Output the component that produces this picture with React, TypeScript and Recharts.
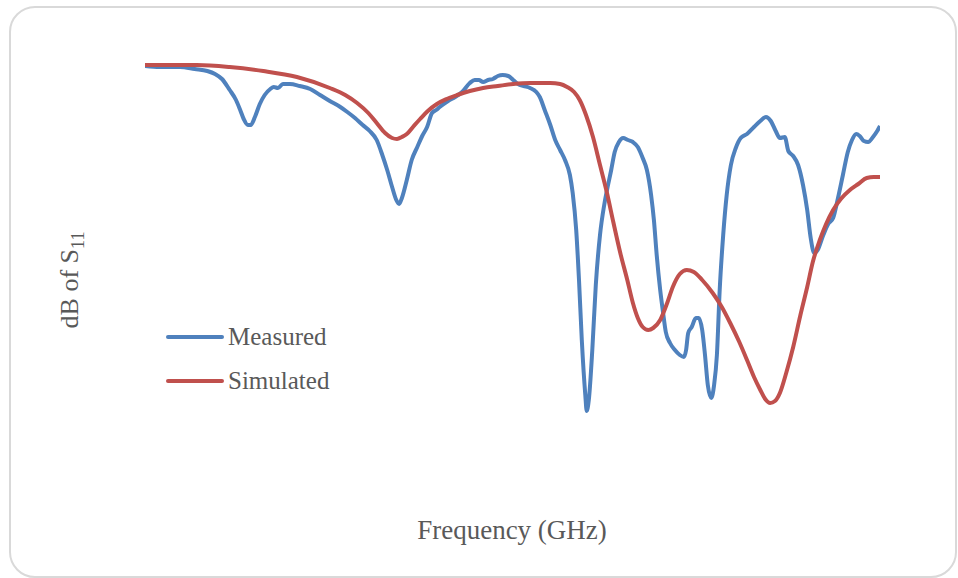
import React from "react";
import { LineChart, Line, XAxis, YAxis, Legend } from "recharts";

// frequency (GHz) / dB pairs
const measuredFreq = [
  1.0, 1.21, 1.5, 1.71, 1.89, 2.0, 2.1, 2.21, 2.3, 2.36, 2.41, 2.47, 2.51, 2.57, 2.64, 2.71, 2.79, 2.84, 2.9, 2.97,
  3.07, 3.21, 3.36, 3.5, 3.64, 3.79, 3.89, 4.0, 4.11, 4.21, 4.31, 4.39, 4.46, 4.53, 4.59, 4.63, 4.67, 4.74, 4.81, 4.89,
  4.96, 5.03, 5.1, 5.16, 5.21, 5.33, 5.43, 5.53, 5.64, 5.71, 5.77, 5.83, 5.9, 5.97, 6.04, 6.11, 6.19, 6.26, 6.33, 6.41,
  6.5, 6.59, 6.64, 6.71, 6.79, 6.86, 6.93, 7.0, 7.07, 7.11, 7.16, 7.2, 7.24, 7.29, 7.31, 7.34, 7.39, 7.44, 7.5, 7.56,
  7.6, 7.66, 7.71, 7.77, 7.83, 7.9, 7.97, 8.04, 8.11, 8.17, 8.23, 8.27, 8.31, 8.36, 8.4, 8.44, 8.5, 8.57, 8.64, 8.7,
  8.73, 8.76, 8.81, 8.87, 8.91, 8.96, 9.0, 9.04, 9.09, 9.13, 9.17, 9.21, 9.26, 9.31, 9.37, 9.44, 9.51, 9.6, 9.7, 9.79,
  9.87, 9.94, 10.01, 10.07, 10.14, 10.19, 10.26, 10.33, 10.4, 10.46, 10.51, 10.56, 10.61, 10.69, 10.76, 10.83, 10.9,
  10.97, 11.04, 11.1, 11.16, 11.21, 11.27, 11.33, 11.4, 11.46, 11.5,
];
const measuredDb = [
  -1.6, -1.7, -1.7, -1.9, -2.1, -2.4, -2.9, -4.0, -5.0, -6.0, -6.9, -7.5, -7.5, -6.7, -5.4, -4.5, -3.9, -3.7, -3.8, -3.4,
  -3.4, -3.6, -3.9, -4.5, -5.1, -5.7, -6.2, -6.8, -7.5, -8.1, -9.0, -10.5, -12.0, -13.7, -15.0, -15.4, -14.8, -13.0, -11.0, -9.7,
  -8.6, -7.7, -6.3, -6.0, -5.7, -5.1, -4.7, -4.2, -3.3, -3.0, -3.0, -3.2, -3.0, -2.9, -2.6, -2.5, -2.6, -3.0, -3.4, -3.6,
  -3.8, -4.2, -4.7, -6.0, -7.5, -9.0, -10.0, -11.0, -12.5, -14.3, -18.0, -23.0, -29.0, -34.5, -36.1, -35.0, -30.0, -23.5, -18.5, -15.5,
  -14.0, -12.0, -10.2, -9.2, -8.8, -9.0, -9.2, -9.7, -10.8, -12.0, -14.5, -17.0, -20.5, -24.0, -26.2, -28.2, -29.3, -30.0, -30.5, -30.7,
  -30.0, -28.3, -27.7, -26.8, -26.8, -28.0, -30.5, -33.5, -34.8, -33.5, -30.5, -24.0, -18.5, -14.5, -11.5, -9.8, -8.8, -8.4, -7.7, -7.1,
  -6.7, -7.1, -8.1, -8.8, -8.7, -10.1, -10.6, -11.5, -13.5, -16.0, -18.8, -20.3, -20.0, -18.5, -17.4, -16.8, -14.8,
  -12.5, -10.2, -9.0, -8.4, -8.6, -9.1, -9.2, -8.7, -8.1, -7.6,
];

const simulatedFreq = [
  1.0, 1.74, 2.21, 2.69, 3.17, 3.64, 3.86, 4.03, 4.19, 4.31, 4.43, 4.53, 4.6, 4.67, 4.74, 4.84, 4.93, 5.04, 5.17, 5.31,
  5.46, 5.64, 5.83, 6.04, 6.26, 6.5, 6.79, 6.93, 7.03, 7.13, 7.21, 7.3, 7.4, 7.5, 7.6, 7.69, 7.79, 7.89, 7.97, 8.04,
  8.11, 8.19, 8.26, 8.36, 8.46, 8.54, 8.64, 8.74, 8.84, 8.96, 9.11, 9.24, 9.36, 9.49, 9.6, 9.7, 9.79, 9.86, 9.93, 10.0,
  10.07, 10.16, 10.26, 10.36, 10.46, 10.54, 10.64, 10.73, 10.83, 10.94, 11.07, 11.19, 11.31, 11.41, 11.5,
];
const simulatedDb = [
  -1.5, -1.5, -1.7, -2.1, -2.7, -3.8, -4.5, -5.3, -6.3, -7.3, -8.3, -8.8, -8.9, -8.7, -8.4, -7.6, -6.9, -6.1, -5.4, -4.9,
  -4.5, -4.1, -3.8, -3.6, -3.4, -3.3, -3.3, -3.4, -3.7, -4.2, -5.0, -6.5, -8.7, -11.5, -14.3, -17.2, -20.3, -23.0, -25.3, -26.8,
  -27.7, -28.0, -27.8, -27.0, -25.3, -23.7, -22.4, -22.0, -22.2, -23.0, -24.3, -25.7, -27.3, -29.2, -31.0, -32.7, -34.0, -34.9, -35.3, -35.1,
  -34.3, -32.3, -29.7, -26.6, -23.7, -21.2, -19.0, -17.4, -16.0, -14.9, -14.0, -13.4, -12.8, -12.7, -12.7,
];

const seriesNames = ["Measured", "Simulated"];
const seriesColors = ["#4f81bd", "#c0504d"];

const measured = measuredFreq.map((f, i) => ({ f, db: measuredDb[i] }));
const simulated = simulatedFreq.map((f, i) => ({ f, db: simulatedDb[i] }));

const textColor = "#595959";
const serif = "'Liberation Serif', 'Times New Roman', serif";

function LegendBox() {
  return (
    <div style={{ fontFamily: serif, fontSize: 25, color: textColor }}>
      {seriesNames.map((name, i) => (
        <div key={name} style={{ display: "flex", alignItems: "center", height: 44 }}>
          <svg width={58} height={8} style={{ marginRight: 4 }}>
            <line x1={2} y1={4} x2={56} y2={4} stroke={seriesColors[i]} strokeWidth={4} strokeLinecap="round" />
          </svg>
          <span>{name}</span>
        </div>
      ))}
    </div>
  );
}

export default function App() {
  return (
    <div style={{ position: "fixed", left: 0, top: 0, width: 958, height: 578, background: "#fff" }}>
      <div
        style={{
          position: "absolute",
          left: 9,
          top: 6,
          width: 948,
          height: 572,
          border: "2px solid #d9d9d9",
          borderRadius: 26,
          boxSizing: "border-box",
        }}
      />
      <div style={{ position: "absolute", left: 0, top: 0 }}>
        <LineChart width={958} height={578} margin={{ top: 50, right: 78, bottom: 78, left: 145 }}>
          <XAxis type="number" dataKey="f" domain={[1, 11.5]} hide allowDataOverflow />
          <YAxis type="number" dataKey="db" domain={[-45, 0]} hide allowDataOverflow />
          <Legend
            layout="horizontal"
            verticalAlign="middle"
            content={() => <LegendBox />}
            wrapperStyle={{ left: 166, top: 315, width: 220, height: 90 }}
          />
          <Line
            data={measured}
            dataKey="db"
            name={seriesNames[0]}
            type="monotone"
            stroke={seriesColors[0]}
            strokeWidth={4}
            dot={false}
            isAnimationActive={false}
          />
          <Line
            data={simulated}
            dataKey="db"
            name={seriesNames[1]}
            type="monotone"
            stroke={seriesColors[1]}
            strokeWidth={4}
            dot={false}
            isAnimationActive={false}
          />
        </LineChart>
      </div>
      <div
        style={{
          position: "absolute",
          left: 72,
          top: 280,
          transform: "translate(-50%, -50%) rotate(-90deg)",
          fontFamily: serif,
          fontSize: 26,
          color: textColor,
          whiteSpace: "nowrap",
        }}
      >
        dB of S<sub style={{ fontSize: 18 }}>11</sub>
      </div>
      <div
        style={{
          position: "absolute",
          left: 512,
          top: 530,
          transform: "translate(-50%, -50%)",
          fontFamily: serif,
          fontSize: 27,
          color: textColor,
          whiteSpace: "nowrap",
        }}
      >
        Frequency (GHz)
      </div>
    </div>
  );
}
